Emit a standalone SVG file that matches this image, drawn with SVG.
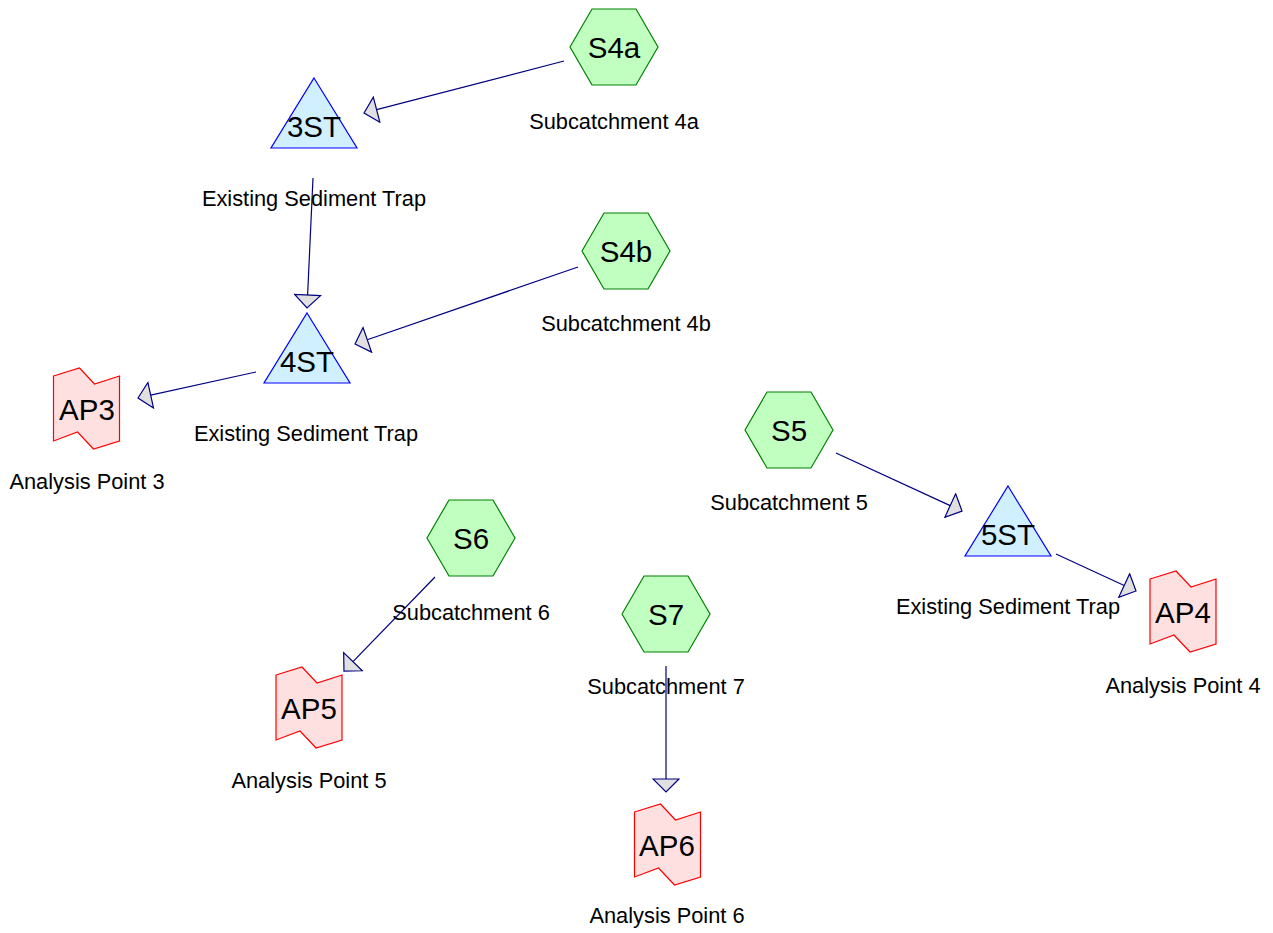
<svg xmlns="http://www.w3.org/2000/svg" width="1273" height="933" viewBox="0 0 1273 933">
<style>
.hex{fill:#c0ffc0;stroke:#008000;stroke-width:1.2}
.tri{fill:#d0f0ff;stroke:#0000ff;stroke-width:1.2}
.ap{fill:#ffe0e0;stroke:#ff0000;stroke-width:1.2}
.nt{font-family:"Liberation Sans",Arial,sans-serif;font-size:29.5px;text-anchor:middle;fill:#000}
.lb{font-family:"Liberation Sans",Arial,sans-serif;font-size:21.8px;text-anchor:middle;fill:#000}
.cn{stroke:#000080;stroke-width:1.2;fill:none;marker-end:url(#arr)}
</style>
<defs>
<marker id="arr" markerUnits="userSpaceOnUse" viewBox="-1 -14 15 28" markerWidth="15" markerHeight="28" refX="0" refY="0" orient="auto">
<path d="M0,-13 L13,0 L0,13 Z" fill="#e0e0e0" stroke="#000080" stroke-width="1.2"/>
</marker>
<path id="hexs" d="M-44,0 L-22,-38 L22,-38 L44,0 L22,38 L-22,38 Z"/>
<path id="tris" d="M0,0 L43,70 L-43,70 Z"/>
<path id="aps" d="M-33,-33 L-7,-41 L8,-25 L33,-33 L33,32 L7,40 L-9,23 L-33,32 Z"/>
</defs>
<g id="connectors">
<line class="cn" x1="564" y1="61" x2="376.6" y2="109.7"/>
<line class="cn" x1="313" y1="178" x2="307.6" y2="295"/>
<line class="cn" x1="578" y1="267" x2="367.3" y2="339.8"/>
<line class="cn" x1="256" y1="372" x2="150.7" y2="395.2"/>
<line class="cn" x1="836" y1="453" x2="950.2" y2="505.6"/>
<line class="cn" x1="1056" y1="554" x2="1124.2" y2="585.5"/>
<line class="cn" x1="435" y1="577" x2="353" y2="661.7"/>
<line class="cn" x1="666" y1="666" x2="666" y2="779"/>
</g>
<g id="S4a">
<use href="#hexs" class="hex" x="614" y="47"/>
<text class="nt" x="614" y="58">S4a</text>
<text class="lb" x="614" y="129">Subcatchment 4a</text>
</g>
<g id="3ST">
<use href="#tris" class="tri" x="314" y="78"/>
<text class="nt" x="314" y="137">3ST</text>
<text class="lb" x="314" y="206">Existing Sediment Trap</text>
</g>
<g id="S4b">
<use href="#hexs" class="hex" x="626" y="251"/>
<text class="nt" x="626" y="262">S4b</text>
<text class="lb" x="626" y="331">Subcatchment 4b</text>
</g>
<g id="4ST">
<use href="#tris" class="tri" x="307" y="313"/>
<text class="nt" x="307" y="372">4ST</text>
<text class="lb" x="306" y="441">Existing Sediment Trap</text>
</g>
<g id="AP3">
<use href="#aps" class="ap" x="86.5" y="409"/>
<text class="nt" x="87" y="420">AP3</text>
<text class="lb" x="87" y="489">Analysis Point 3</text>
</g>
<g id="S5">
<use href="#hexs" class="hex" x="789" y="430"/>
<text class="nt" x="789" y="441">S5</text>
<text class="lb" x="789" y="510">Subcatchment 5</text>
</g>
<g id="5ST">
<use href="#tris" class="tri" x="1008" y="486"/>
<text class="nt" x="1008" y="545">5ST</text>
<text class="lb" x="1008" y="614">Existing Sediment Trap</text>
</g>
<g id="AP4">
<use href="#aps" class="ap" x="1183" y="612"/>
<text class="nt" x="1183" y="623">AP4</text>
<text class="lb" x="1183" y="693">Analysis Point 4</text>
</g>
<g id="S6">
<use href="#hexs" class="hex" x="471" y="538"/>
<text class="nt" x="471" y="549">S6</text>
<text class="lb" x="471" y="620">Subcatchment 6</text>
</g>
<g id="AP5">
<use href="#aps" class="ap" x="309" y="708"/>
<text class="nt" x="309" y="719">AP5</text>
<text class="lb" x="309" y="788">Analysis Point 5</text>
</g>
<g id="S7">
<use href="#hexs" class="hex" x="666" y="614"/>
<text class="nt" x="666" y="625">S7</text>
<text class="lb" x="666" y="694">Subcatchment 7</text>
</g>
<g id="AP6">
<use href="#aps" class="ap" x="667.5" y="845"/>
<text class="nt" x="667" y="856">AP6</text>
<text class="lb" x="667" y="923">Analysis Point 6</text>
</g>
</svg>
